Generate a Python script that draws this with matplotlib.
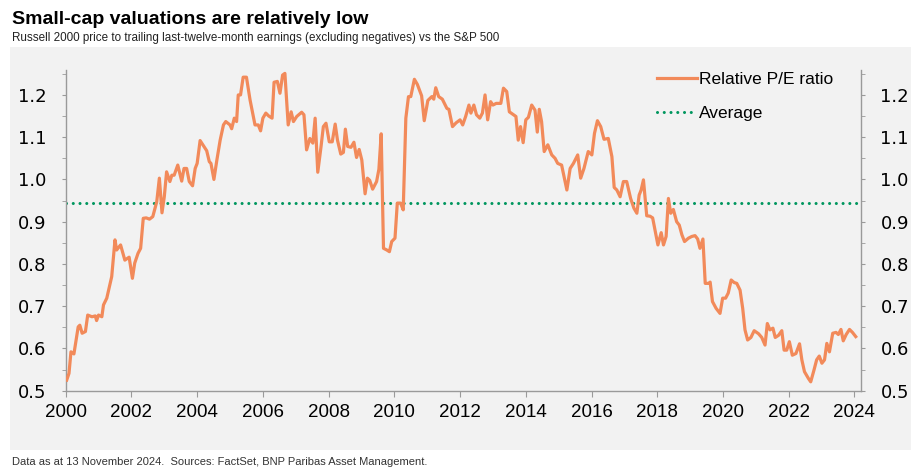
import matplotlib
matplotlib.use("Agg")
import matplotlib.pyplot as plt
from matplotlib.patches import Rectangle
from matplotlib.ticker import MultipleLocator, FuncFormatter

# ---------------- data ----------------
dates = [
    2000.03, 2000.10, 2000.16, 2000.25, 2000.38, 2000.43, 2000.50, 2000.60, 2000.67, 2000.80,
    2000.90, 2000.94, 2001.00, 2001.10, 2001.15, 2001.25, 2001.40, 2001.50, 2001.55, 2001.67,
    2001.80, 2001.93, 2002.03, 2002.10, 2002.20, 2002.28, 2002.36, 2002.45, 2002.55, 2002.65,
    2002.77, 2002.85, 2002.93, 2003.00, 2003.07, 2003.17, 2003.23, 2003.30, 2003.41, 2003.53,
    2003.60, 2003.68, 2003.76, 2003.86, 2003.94, 2004.00, 2004.09, 2004.14, 2004.29, 2004.37,
    2004.42, 2004.51, 2004.60, 2004.70, 2004.80, 2004.87, 2005.00, 2005.05, 2005.13, 2005.20,
    2005.25, 2005.32, 2005.40, 2005.50, 2005.61, 2005.76, 2005.86, 2005.93, 2006.00, 2006.09,
    2006.18, 2006.28, 2006.34, 2006.44, 2006.52, 2006.60, 2006.67, 2006.77, 2006.86, 2006.93,
    2007.03, 2007.18, 2007.25, 2007.33, 2007.43, 2007.52, 2007.59, 2007.67, 2007.77, 2007.84,
    2007.92, 2008.02, 2008.11, 2008.20, 2008.27, 2008.37, 2008.45, 2008.51, 2008.58, 2008.68,
    2008.77, 2008.85, 2008.93, 2009.01, 2009.11, 2009.18, 2009.25, 2009.34, 2009.46, 2009.53,
    2009.60, 2009.67, 2009.77, 2009.85, 2009.92, 2010.02, 2010.09, 2010.19, 2010.27, 2010.35,
    2010.43, 2010.50, 2010.61, 2010.70, 2010.83, 2010.91, 2011.02, 2011.14, 2011.20, 2011.26,
    2011.35, 2011.46, 2011.60, 2011.66, 2011.77, 2011.88, 2012.00, 2012.08, 2012.17, 2012.27,
    2012.33, 2012.42, 2012.50, 2012.60, 2012.68, 2012.76, 2012.84, 2012.93, 2013.00, 2013.10,
    2013.24, 2013.32, 2013.42, 2013.50, 2013.63, 2013.70, 2013.77, 2013.84, 2013.92, 2014.00,
    2014.08, 2014.18, 2014.28, 2014.35, 2014.41, 2014.48, 2014.56, 2014.67, 2014.79, 2014.89,
    2014.97, 2015.09, 2015.25, 2015.35, 2015.45, 2015.58, 2015.67, 2015.77, 2015.90, 2016.01,
    2016.09, 2016.18, 2016.28, 2016.38, 2016.51, 2016.62, 2016.69, 2016.77, 2016.87, 2016.97,
    2017.07, 2017.19, 2017.29, 2017.38, 2017.45, 2017.51, 2017.58, 2017.68, 2017.78, 2017.86,
    2018.02, 2018.12, 2018.19, 2018.27, 2018.34, 2018.41, 2018.49, 2018.59, 2018.67, 2018.75,
    2018.83, 2018.95, 2019.05, 2019.15, 2019.23, 2019.30, 2019.39, 2019.46, 2019.56, 2019.61,
    2019.68, 2019.79, 2019.91, 2019.99, 2020.08, 2020.16, 2020.25, 2020.34, 2020.42, 2020.52,
    2020.60, 2020.67, 2020.75, 2020.85, 2020.95, 2021.08, 2021.18, 2021.28, 2021.35, 2021.43,
    2021.52, 2021.59, 2021.69, 2021.79, 2021.86, 2021.94, 2022.02, 2022.11, 2022.22, 2022.33,
    2022.40, 2022.48, 2022.60, 2022.67, 2022.77, 2022.85, 2022.93, 2023.01, 2023.09, 2023.16,
    2023.24, 2023.34, 2023.44, 2023.51, 2023.59, 2023.66, 2023.75, 2023.85, 2023.94, 2024.04,
]
pe_ratio = [
    0.525, 0.541, 0.592, 0.587, 0.651, 0.655, 0.636, 0.640, 0.679, 0.675,
    0.677, 0.666, 0.679, 0.675, 0.703, 0.719, 0.770, 0.857, 0.833, 0.845,
    0.809, 0.816, 0.766, 0.802, 0.825, 0.837, 0.908, 0.909, 0.906, 0.912,
    0.947, 1.003, 0.921, 0.959, 1.018, 0.995, 1.010, 1.010, 1.034, 0.996,
    1.026, 1.026, 0.995, 0.985, 1.026, 1.038, 1.092, 1.086, 1.068, 1.042,
    1.038, 1.000, 1.046, 1.093, 1.129, 1.137, 1.129, 1.120, 1.145, 1.137,
    1.200, 1.200, 1.242, 1.242, 1.188, 1.129, 1.129, 1.115, 1.145, 1.157,
    1.150, 1.145, 1.230, 1.232, 1.204, 1.247, 1.251, 1.129, 1.160, 1.137,
    1.149, 1.159, 1.153, 1.070, 1.097, 1.086, 1.145, 1.017, 1.078, 1.125,
    1.133, 1.089, 1.089, 1.131, 1.093, 1.060, 1.064, 1.119, 1.078, 1.076,
    1.088, 1.052, 1.071, 1.046, 0.966, 1.003, 0.998, 0.977, 0.995, 1.024,
    1.108, 0.837, 0.833, 0.829, 0.853, 0.861, 0.944, 0.944, 0.928, 1.145,
    1.196, 1.196, 1.237, 1.225, 1.198, 1.139, 1.187, 1.196, 1.190, 1.217,
    1.196, 1.190, 1.168, 1.166, 1.125, 1.134, 1.141, 1.129, 1.149, 1.176,
    1.157, 1.176, 1.153, 1.145, 1.157, 1.200, 1.141, 1.184, 1.176, 1.180,
    1.180, 1.216, 1.208, 1.160, 1.153, 1.149, 1.093, 1.125, 1.087, 1.141,
    1.147, 1.176, 1.164, 1.112, 1.166, 1.137, 1.066, 1.082, 1.058, 1.050,
    1.038, 1.034, 0.975, 1.026, 1.038, 1.058, 1.003, 1.026, 1.066, 1.058,
    1.109, 1.139, 1.125, 1.095, 1.097, 1.054, 0.981, 0.975, 0.959, 0.995,
    0.995, 0.955, 0.932, 0.920, 0.963, 0.975, 0.999, 0.914, 0.913, 0.909,
    0.845, 0.874, 0.845, 0.865, 0.955, 0.920, 0.929, 0.900, 0.892, 0.869,
    0.853, 0.861, 0.865, 0.867, 0.859, 0.837, 0.859, 0.754, 0.754, 0.757,
    0.711, 0.695, 0.683, 0.719, 0.719, 0.731, 0.762, 0.756, 0.754, 0.738,
    0.695, 0.644, 0.620, 0.626, 0.642, 0.635, 0.626, 0.608, 0.659, 0.644,
    0.648, 0.626, 0.631, 0.642, 0.596, 0.596, 0.616, 0.584, 0.588, 0.611,
    0.573, 0.545, 0.529, 0.521, 0.549, 0.573, 0.582, 0.565, 0.573, 0.612,
    0.592, 0.636, 0.638, 0.633, 0.645, 0.618, 0.633, 0.645, 0.638, 0.628,
]
average_value = 0.945
x_ticks = [2000, 2002, 2004, 2006, 2008, 2010, 2012, 2014, 2016, 2018, 2020, 2022, 2024]
y_ticks = [0.5, 0.6, 0.7, 0.8, 0.9, 1.0, 1.1, 1.2]

title = "Small-cap valuations are relatively low"
subtitle = "Russell 2000 price to trailing last-twelve-month earnings (excluding negatives) vs the S&P 500"
footer = "Data as at 13 November 2024.  Sources: FactSet, BNP Paribas Asset Management."
series_label = "Relative P/E ratio"
average_label = "Average"

# ---------------- style ----------------
W, H = 911, 472
ORANGE = "#F28A5A"
GREEN = "#00965E"
PANEL = "#F2F2F2"
AXIS = "#9A9A9A"
LIB = ["Liberation Sans", "DejaVu Sans"]
DJV = ["DejaVu Sans"]

fig = plt.figure(figsize=(W / 100, H / 100), dpi=100)
fig.patch.set_facecolor("white")

# grey panel behind the chart
fig.patches.append(Rectangle((10 / W, 1 - 450 / H), 1 - 10 / W, (450 - 47) / H,
                             transform=fig.transFigure, facecolor=PANEL,
                             edgecolor="none", zorder=-5))

fig.text(12 / W, 1 - 19 / H, title, fontsize=14, fontweight="bold",
         family=LIB, va="center", ha="left", color="black")
fig.text(12 / W, 1 - 38.5 / H, subtitle, fontsize=8.35, family=LIB,
         va="center", ha="left", color="#222222")
fig.text(12 / W, 1 - 462 / H, footer, fontsize=8.0, family=LIB,
         va="center", ha="left", color="#333333")

left, right = 65.7 / W, 861 / W
bottom, top = 1 - 390.7 / H, 1 - 70 / H
ax = fig.add_axes([left, bottom, right - left, top - bottom])
ax.set_facecolor("none")
ax.set_zorder(2)

ax.plot(dates, pe_ratio, color=ORANGE, lw=2.3, solid_joinstyle="round",
        label=series_label, zorder=3)
ax.axhline(average_value, color=GREEN, lw=2.2, linestyle=(0, (0.01, 2.2)),
           dash_capstyle="round", label=average_label, zorder=2)

ax.set_xlim(2000, 2024.2)
ax.set_ylim(0.5, 1.259)

ax.spines["top"].set_visible(False)
for s in ["left", "right", "bottom"]:
    ax.spines[s].set_color(AXIS)
    ax.spines[s].set_linewidth(1.0)

ax.set_xticks(x_ticks)
ax.set_xticklabels([str(t) for t in x_ticks], family=LIB, fontsize=13.5)
ax.tick_params(axis="x", direction="out", length=4.3, color=AXIS, pad=5)

ax.set_yticks(y_ticks)
ax.yaxis.set_major_formatter(FuncFormatter(lambda v, p: f"{v:.1f}"))
ax.yaxis.set_minor_locator(MultipleLocator(0.05))
ax.tick_params(axis="y", which="both", direction="out", length=3, color=AXIS,
               left=True, right=True)
ax.tick_params(axis="y", which="major", labelsize=13, pad=11,
               labelleft=True, labelright=True)
for lab in ax.get_yticklabels(which="both"):
    lab.set_family(DJV)

ax.legend(loc="upper left", bbox_to_anchor=(656.7 / W, 1 - 72 / H),
          bbox_transform=fig.transFigure, frameon=False, borderpad=0,
          borderaxespad=0, handlelength=2.3, handletextpad=0.15,
          labelspacing=1.1, prop={"family": LIB, "size": 12.5})

fig.savefig("out.png", dpi=100, facecolor=fig.get_facecolor())
